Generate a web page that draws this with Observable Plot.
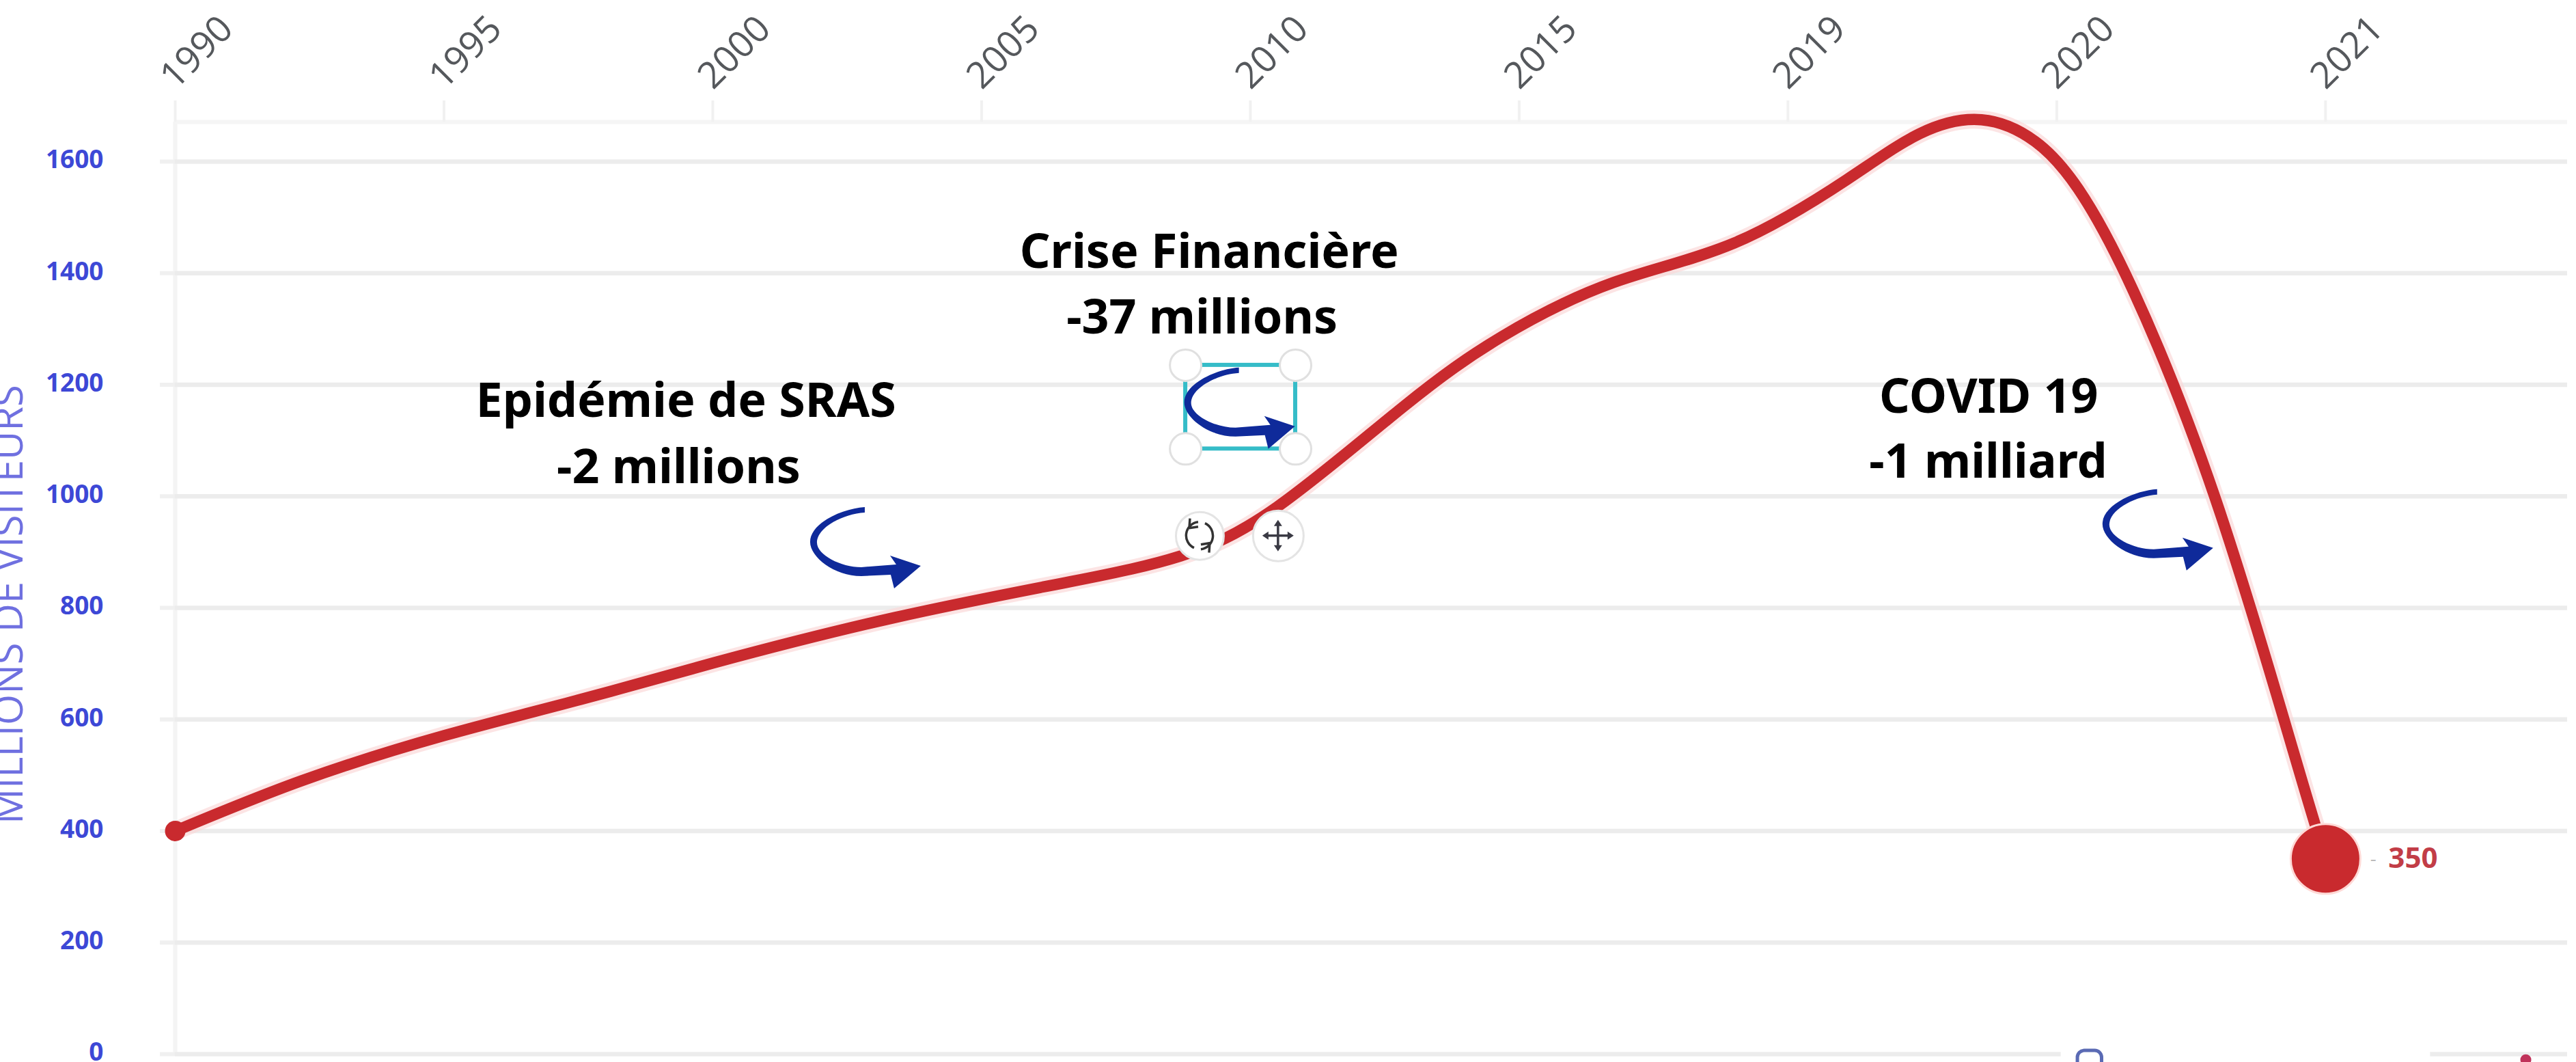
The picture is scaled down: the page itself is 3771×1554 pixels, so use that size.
<!DOCTYPE html>
<html lang="fr">
<head>
<meta charset="utf-8">
<title>Millions de visiteurs</title>
<script src="https://cdn.jsdelivr.net/npm/d3@7"></script>
<script src="https://cdn.jsdelivr.net/npm/@observablehq/plot@0.6"></script>
<style>
  html, body { margin: 0; padding: 0; background: #fff; overflow: hidden; }
  svg { display: block; }
</style>
</head>
<body>
<div id="chart"></div>
<script>
// Axis categories: evenly spaced, not proportional to time.
const yearLabels = ["1990", "1995", "2000", "2005", "2010", "2015", "2019", "2020", "2021"];
const visitorTicks = [0, 200, 400, 600, 800, 1000, 1200, 1400, 1600];
const visitorTop = 1671;

// Curve readings: position along the category axis, and millions of visitors.
const curvePosition = [0, 0.47, 1, 1.51, 2, 2.68, 3.33, 3.74, 4.1, 4.57, 4.935, 5.35, 5.8, 6.22, 6.49, 6.72, 6.92, 7.08, 7.285, 7.59, 7.88, 8];
const curveVisitors = [400, 490, 571, 636, 701, 783, 847, 893, 981, 1161, 1286, 1383, 1454, 1568, 1650, 1675, 1636, 1551, 1368, 996, 543, 350];

// Event notes, one line of text per row, anchored on the chart's own axes.
const noteText = ["Crise Financière", "-37 millions", "Epidémie de SRAS", "-2 millions", "COVID 19", "-1 milliard"];
const notePosition = [3.847, 3.82, 1.9, 1.873, 6.747, 6.745];
const noteVisitors = [1409, 1292, 1142, 1023, 1150, 1033];

// Curved arrows: position of each arrow tip.
const arrowPosition = [2.77, 4.162, 7.578];
const arrowVisitors = [876, 1126, 908];

// Editing frame left around the middle arrow, with its handles and buttons.
const framePosition = [3.759, 4.168];
const frameVisitors = [1085, 1235];
const rotateButton = { x: 3.812, y: 929 };
const moveButton = { x: 4.104, y: 929 };

const curve = curvePosition.map((x, i) => ({ x, y: curveVisitors[i] }));
const first = curve[0];
const last = curve[curve.length - 1];
const notes = noteText.map((text, i) => ({ text, x: notePosition[i], y: noteVisitors[i] }));
const arrows = arrowPosition.map((x, i) => ({ x, y: arrowVisitors[i] }));
const corners = framePosition.flatMap((x) => frameVisitors.map((y) => ({ x, y })));
const yearIndex = d3.range(yearLabels.length);

const RED = "#c92a2e";
const BLUE_TICK = "#3d48d6";
const GRID = "#ececec";
const ARROW_SHAPE = "M-80,-85C-112,-83-160,-62-160,-34C-160,-12-125,16-85,16L-42,14L-37,34L2,1L-43,-14L-34,-1L-85,3C-115,3-150,-15-150,-33C-150,-55-112,-75-80,-77Z";

// Draws a small fixed shape at a position given in the chart's axes.
const glyphAt = (anchor, build) => (index, { x, y }) => {
  const g = d3.create("svg:g").attr("transform", `translate(${x(anchor.x)},${y(anchor.y)})`);
  build(g);
  return g.node();
};

const arrowMark = (arrow) => glyphAt(arrow, (g) => {
  g.append("path").attr("d", ARROW_SHAPE).attr("fill", "#0f2a9a");
});

const rotateIcon = glyphAt(rotateButton, (g) => {
  g.append("path")
    .attr("d", "M-2,-20A20,20 0 0 0 -8,18M-14,-25L-15,-11L-2,-13M2,20A20,20 0 0 0 8,-18M14,25L15,11L2,13")
    .attr("fill", "none")
    .attr("stroke", "#333")
    .attr("stroke-width", 3.5);
});

const moveIcon = glyphAt(moveButton, (g) => {
  g.append("path")
    .attr("d", "M-16,0H16M0,-16V16")
    .attr("stroke", "#3a3a44")
    .attr("stroke-width", 3.5);
  g.append("path")
    .attr("d", "M0,-23L-6,-14H6ZM0,23L-6,14H6ZM-23,0L-14,-6V6ZM23,0L14,-6V6Z")
    .attr("fill", "#3a3a44");
});

const chart = Plot.plot({
  width: 3771,
  height: 1554,
  marginLeft: 256,
  marginRight: 13,
  marginTop: 178,
  marginBottom: 12,
  style: { background: "#fff", fontFamily: "'Open Sans', sans-serif", overflow: "visible" },
  x: { type: "linear", domain: [0, 8.9] },
  y: { domain: [0, visitorTop] },
  marks: [
    // Frame, grid and axes
    Plot.ruleX([0], { stroke: "#f4f4f4", strokeWidth: 6 }),
    Plot.ruleY([visitorTop], { stroke: "#f5f5f5", strokeWidth: 6 }),
    Plot.ruleY(visitorTicks.filter((d) => d > 0), { stroke: GRID, strokeWidth: 6.5 }),
    Plot.ruleY([0, 0], { x1: [0, 8.39], x2: [7.016, 8.9], stroke: GRID, strokeWidth: 6.5 }),
    Plot.ruleX(yearIndex, { y1: visitorTop, y2: visitorTop + 38, stroke: "#f1f1f1", strokeWidth: 4 }),
    Plot.axisX(yearIndex, {
      anchor: "top",
      label: null,
      tickFormat: (i) => yearLabels[i],
      tickSize: 0,
      tickPadding: 66,
      tickRotate: -45,
      dx: -12,
      dy: 8,
      fill: "#55585c",
      fontSize: 54
    }),
    Plot.axisY(visitorTicks, {
      label: null,
      tickSize: 0,
      tickPadding: 105,
      fill: BLUE_TICK,
      fontSize: 37,
      fontWeight: 700,
      dy: -2,
      tickFormat: (d) => String(d)
    }),
    Plot.ruleY(visitorTicks, { x1: -0.056, x2: 0, stroke: "#f0f0f0", strokeWidth: 6 }),
    Plot.text(["MILLIONS DE VISITEURS"], {
      x: -0.569,
      y: 806,
      rotate: -90,
      lineAnchor: "bottom",
      fontSize: 58,
      fill: "#6f70e0"
    }),

    // Visitor curve with its soft pink edge
    Plot.line(curve, { x: "x", y: "y", curve: "natural", stroke: "#fbd9d9", strokeWidth: 27, strokeOpacity: 0.7 }),
    Plot.line(curve, { x: "x", y: "y", curve: "natural", stroke: RED, strokeWidth: 16.5 }),
    Plot.dot([first], { x: "x", y: "y", r: 15, fill: RED }),
    Plot.dot([last], { x: "x", y: "y", r: 51, fill: RED, stroke: "#ffd9d6", strokeWidth: 3 }),
    Plot.text([last], { x: "x", y: "y", text: () => "-", dx: 70, fontSize: 28, fill: "#bbbbbb", textAnchor: "middle" }),
    Plot.text([last], {
      x: "x",
      y: "y",
      text: (d) => String(d.y),
      dx: 92,
      textAnchor: "start",
      fontSize: 42,
      fontWeight: 700,
      fill: "#c23d47"
    }),

    // Event notes
    Plot.text(notes, {
      x: "x",
      y: "y",
      text: "text",
      lineAnchor: "bottom",
      fontFamily: "'Noto Sans', sans-serif",
      fontSize: 70,
      fontWeight: 700,
      fill: "#000"
    }),

    // Editing frame around the middle arrow
    Plot.rect([0], {
      x1: framePosition[0],
      x2: framePosition[1],
      y1: frameVisitors[0],
      y2: frameVisitors[1],
      fill: "none",
      stroke: "#35bcc8",
      strokeWidth: 6
    }),
    ...arrows.map(arrowMark),
    Plot.dot(corners, { x: "x", y: "y", r: 23, fill: "#fff", stroke: "#e0e0e0", strokeWidth: 3 }),
    Plot.dot([rotateButton], { x: "x", y: "y", r: 35, fill: "#fff", stroke: "#e4e4e4", strokeWidth: 3 }),
    Plot.dot([moveButton], { x: "x", y: "y", r: 37, fill: "#fff", stroke: "#e4e4e4", strokeWidth: 3 }),
    rotateIcon,
    moveIcon,

    // Toolbar remnants along the bottom edge
    Plot.rect([0], { x1: 7.078, x2: 7.168, y1: 6, y2: -40, r: 10, fill: "#fff", stroke: "#5a6ab4", strokeWidth: 5 }),
    Plot.dot([{ x: 8.745, y: -10 }], { x: "x", y: "y", r: 8, fill: "#c0325a" })
  ]
});

document.getElementById("chart").append(chart);
</script>
</body>
</html>
